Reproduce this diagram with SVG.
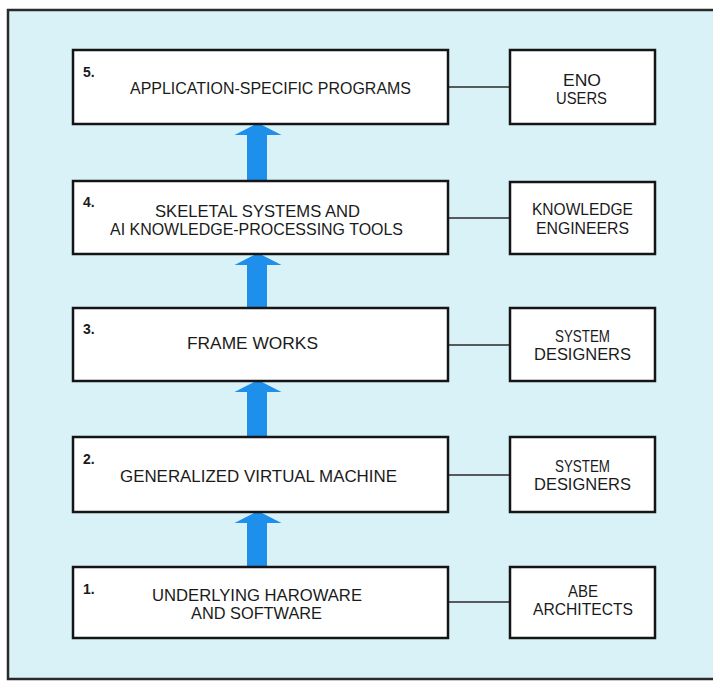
<svg xmlns="http://www.w3.org/2000/svg" width="713" height="683" viewBox="0 0 713 683">
<style>
.bg{fill:#d9f2f8}
.frame{fill:none;stroke:#2a2a2a;stroke-width:2.5}
.box{fill:#ffffff;stroke:#151515;stroke-width:2.5}
.t{font-family:"Liberation Sans",Arial,sans-serif;font-size:16.5px;fill:#1a1a1a}
.n{font-family:"Liberation Sans",Arial,sans-serif;font-size:14px;font-weight:bold;fill:#1a1a1a}
.c{stroke:#2a2a2a;stroke-width:1.6;fill:none}
.arr{fill:#1e8fea}
</style>
<defs>
<path id="arrow" d="M0 0 L23.5 12 L9 12 L9 60 L-11 60 L-11 12 L-23.5 12 Z"/>
</defs>
<rect x="0" y="0" width="713" height="683" fill="#ffffff"/>
<rect class="bg" x="8" y="10" width="720" height="669"/>
<rect class="frame" x="8" y="10" width="720" height="669"/>
<g id="arrows">
<use href="#arrow" class="arr" x="258" y="123"/>
<use href="#arrow" class="arr" x="258" y="253"/>
<use href="#arrow" class="arr" x="258" y="380"/>
<use href="#arrow" class="arr" x="258" y="511"/>
</g>
<g id="connectors">
<line class="c" x1="448" y1="87" x2="510" y2="87"/>
<line class="c" x1="448" y1="218" x2="510" y2="218"/>
<line class="c" x1="448" y1="345" x2="510" y2="345"/>
<line class="c" x1="448" y1="475" x2="510" y2="475"/>
<line class="c" x1="448" y1="602" x2="510" y2="602"/>
</g>
<g id="level5">
<rect class="box" x="73" y="50" width="375" height="74"/>
<text class="n" x="83" y="77">5.</text>
<text class="t" x="130" y="94" textLength="281" lengthAdjust="spacingAndGlyphs">APPLICATION-SPECIFIC PROGRAMS</text>
</g>
<g id="level4">
<rect class="box" x="73" y="181" width="375" height="73"/>
<text class="n" x="83" y="207">4.</text>
<text class="t" x="155" y="217" textLength="205" lengthAdjust="spacingAndGlyphs">SKELETAL SYSTEMS AND</text>
<text class="t" x="110" y="235" textLength="293" lengthAdjust="spacingAndGlyphs">AI KNOWLEDGE-PROCESSING TOOLS</text>
</g>
<g id="level3">
<rect class="box" x="73" y="308" width="375" height="73"/>
<text class="n" x="83" y="334">3.</text>
<text class="t" x="187" y="349" textLength="131" lengthAdjust="spacingAndGlyphs">FRAME WORKS</text>
</g>
<g id="level2">
<rect class="box" x="73" y="437" width="375" height="75"/>
<text class="n" x="83" y="464">2.</text>
<text class="t" x="120" y="482" textLength="277" lengthAdjust="spacingAndGlyphs">GENERALIZED VIRTUAL MACHINE</text>
</g>
<g id="level1">
<rect class="box" x="73" y="567" width="375" height="71"/>
<text class="n" x="83" y="594">1.</text>
<text class="t" x="152" y="601" textLength="210" lengthAdjust="spacingAndGlyphs">UNDERLYING HAROWARE</text>
<text class="t" x="191" y="619" textLength="131" lengthAdjust="spacingAndGlyphs">AND SOFTWARE</text>
</g>
<g id="endusers">
<rect class="box" x="510" y="50" width="145" height="74"/>
<text class="t" x="563" y="86" textLength="38" lengthAdjust="spacingAndGlyphs">ENO</text>
<text class="t" x="556" y="104" textLength="51" lengthAdjust="spacingAndGlyphs">USERS</text>
</g>
<g id="knowledgeengineers">
<rect class="box" x="510" y="182" width="145" height="72"/>
<text class="t" x="532" y="215" textLength="101" lengthAdjust="spacingAndGlyphs">KNOWLEDGE</text>
<text class="t" x="536" y="234" textLength="93" lengthAdjust="spacingAndGlyphs">ENGINEERS</text>
</g>
<g id="systemdesigners3">
<rect class="box" x="510" y="308" width="145" height="73"/>
<text class="t" x="555" y="342" textLength="55" lengthAdjust="spacingAndGlyphs">SYSTEM</text>
<text class="t" x="534" y="360" textLength="97" lengthAdjust="spacingAndGlyphs">DESIGNERS</text>
</g>
<g id="systemdesigners2">
<rect class="box" x="510" y="437" width="145" height="75"/>
<text class="t" x="555" y="472" textLength="55" lengthAdjust="spacingAndGlyphs">SYSTEM</text>
<text class="t" x="534" y="490" textLength="97" lengthAdjust="spacingAndGlyphs">DESIGNERS</text>
</g>
<g id="architects">
<rect class="box" x="510" y="567" width="145" height="71"/>
<text class="t" x="568" y="597" textLength="30" lengthAdjust="spacingAndGlyphs">ABE</text>
<text class="t" x="533" y="615" textLength="100" lengthAdjust="spacingAndGlyphs">ARCHITECTS</text>
</g>
</svg>
